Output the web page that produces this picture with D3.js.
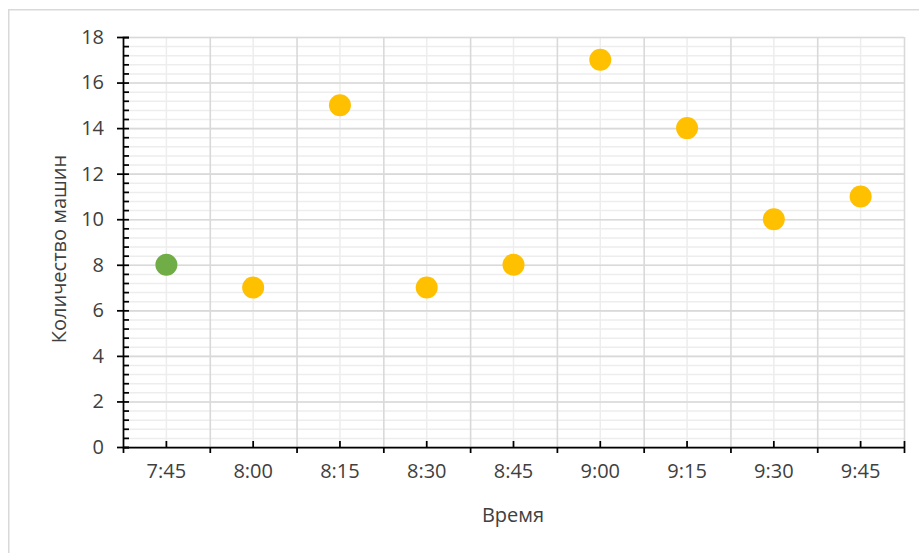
<!DOCTYPE html>
<html lang="ru">
<head>
    <meta charset="UTF-8">
    <title>Количество машин</title>
    <style>
        body {
            margin: 0;
            background-color: white;
            font-family: 'Open Sans', sans-serif;
        }
        svg { display: block; }
        .tick text { fill: #404040; font-size: 20px; font-family: 'Open Sans', sans-serif; }
        .axis path, .axis line { stroke: #000; stroke-width: 1.75; }
        .grid path { display: none; }
    </style>
</head>
<body>
    <div id="chart"></div>

    <script src="https://d3js.org/d3.v7.min.js"></script>
    <script>
        // data
        var times = ["7:45", "8:00", "8:15", "8:30", "8:45", "9:00", "9:15", "9:30", "9:45"];
        var cars = [8, 7, 15, 7, 8, 17, 14, 10, 11];
        var yTicks = [0, 2, 4, 6, 8, 10, 12, 14, 16, 18];
        var yMinorTicks = d3.range(0, 46).map(function(i) { return Math.round(i * 0.4 * 10) / 10; });

        var w = 919, h = 553;
        // plot area (note: "top" is a reserved window property, so use plot* names)
        var plotLeft = 123, plotRight = 904, plotTop = 37, plotBottom = 447;

        var svg = d3.select("#chart").append("svg")
            .attr("width", w)
            .attr("height", h);

        // chart border
        svg.append("rect")
            .attr("x", 8.75).attr("y", 9.75)
            .attr("width", 1000).attr("height", 1000)
            .attr("fill", "white")
            .attr("stroke", "#d9d9d9")
            .attr("stroke-width", 1.5);

        var x = d3.scaleBand().domain(times).range([plotLeft, plotRight]).padding(0);
        var xEdge = d3.scaleLinear().domain([0, times.length]).range([plotLeft, plotRight]);
        var y = d3.scaleLinear().domain([0, 18]).range([plotBottom, plotTop]);

        // minor gridlines
        svg.append("g").attr("class", "grid")
            .attr("transform", "translate(" + plotLeft + ",0)")
            .call(d3.axisRight(y).tickValues(yMinorTicks).tickSize(plotRight - plotLeft).tickFormat(""))
            .selectAll("line").attr("stroke", "#ededed").attr("stroke-width", 1.5);

        svg.append("g").attr("class", "grid")
            .attr("transform", "translate(0," + plotTop + ")")
            .call(d3.axisBottom(x).tickSize(plotBottom - plotTop).tickFormat(""))
            .selectAll("line").attr("stroke", "#ededed").attr("stroke-width", 1.5);

        // major gridlines
        svg.append("g").attr("class", "grid")
            .attr("transform", "translate(" + plotLeft + ",0)")
            .call(d3.axisRight(y).tickValues(yTicks).tickSize(plotRight - plotLeft).tickFormat(""))
            .selectAll("line").attr("stroke", "#d9d9d9").attr("stroke-width", 1.6);

        svg.append("g").attr("class", "grid")
            .attr("transform", "translate(0," + plotTop + ")")
            .call(d3.axisBottom(xEdge).tickValues(d3.range(1, times.length + 1)).tickSize(plotBottom - plotTop).tickFormat(""))
            .selectAll("line").attr("stroke", "#d9d9d9").attr("stroke-width", 1.6);

        // y axis
        svg.append("g").attr("class", "axis")
            .attr("transform", "translate(" + plotLeft + ",0)")
            .call(d3.axisRight(y).tickValues(yMinorTicks).tickSize(6).tickFormat(""));

        svg.append("g").attr("class", "axis")
            .attr("transform", "translate(" + plotLeft + ",0)")
            .call(d3.axisLeft(y).tickValues(yTicks).tickSize(6).tickPadding(13))
            .call(function(g) { g.select(".domain").remove(); });

        // x axis
        svg.append("g").attr("class", "axis")
            .attr("transform", "translate(0," + plotBottom + ")")
            .call(d3.axisTop(x).tickSize(6).tickFormat(""))
            .call(function(g) { g.select(".domain").remove(); });

        svg.append("g").attr("class", "axis")
            .attr("transform", "translate(0," + plotBottom + ")")
            .call(d3.axisTop(xEdge).tickValues([times.length]).tickSize(6).tickFormat(""))
            .call(function(g) { g.select(".domain").remove(); });

        svg.append("g").attr("class", "axis")
            .attr("transform", "translate(0," + plotBottom + ")")
            .call(d3.axisBottom(xEdge).tickValues(d3.range(0, times.length + 1)).tickSize(6).tickSizeOuter(0).tickFormat(""));

        svg.append("g").attr("class", "axis")
            .attr("transform", "translate(0," + plotBottom + ")")
            .call(d3.axisBottom(x).tickSize(0).tickPadding(17))
            .call(function(g) { g.select(".domain").remove(); });

        // points
        svg.selectAll("circle.pt")
            .data(cars)
            .enter()
            .append("circle")
            .attr("class", "pt")
            .attr("cx", function(d, i) { return x(times[i]) + x.bandwidth() / 2; })
            .attr("cy", function(d) { return y(d); })
            .attr("r", 11)
            .attr("fill", function(d, i) { return i === 0 ? "#70ad47" : "#ffc000"; });

        // axis titles
        svg.append("text")
            .attr("x", (plotLeft + plotRight) / 2 - 0.5)
            .attr("y", 522)
            .attr("text-anchor", "middle")
            .attr("fill", "#404040")
            .style("font-size", "20px")
            .text("Время");

        svg.append("text")
            .attr("transform", "translate(66,249) rotate(-90)")
            .attr("text-anchor", "middle")
            .attr("fill", "#404040")
            .style("font-size", "20px")
            .text("Количество машин");
    </script>
</body>
</html>
